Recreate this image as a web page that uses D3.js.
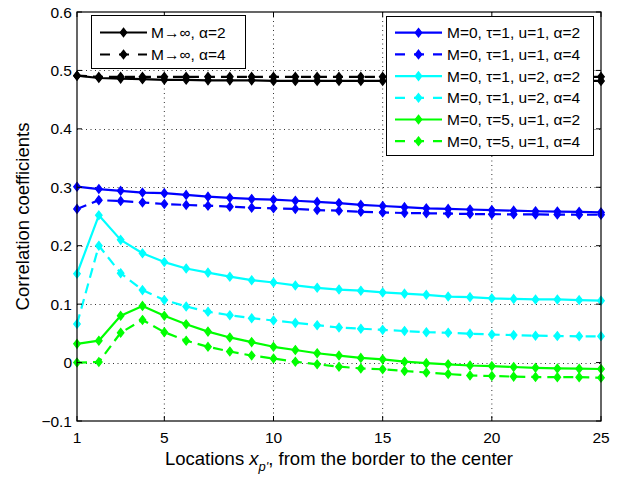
<!DOCTYPE html>
<html>
<head>
<meta charset="utf-8">
<script src="https://cdn.jsdelivr.net/npm/d3@7/dist/d3.min.js"></script>
<style>
  html, body { margin: 0; padding: 0; background: #fff; }
  svg { display: block; }
  text { font-family: "Liberation Sans", Arial, Helvetica, sans-serif; fill: #000; }
</style>
</head>
<body>
<svg id="chart" width="632" height="478"></svg>
<script>
// ---- data ----
const locations = d3.range(1, 26);
const xTicks = [1, 5, 10, 15, 20, 25];
const yTicks = [-0.1, 0, 0.1, 0.2, 0.3, 0.4, 0.5, 0.6];

const blackA2 = [0.491,0.487,0.486,0.485,0.484,0.484,0.483,0.483,0.483,0.482,0.482,0.482,0.482,0.482,0.482,0.482,0.482,0.482,0.482,0.482,0.482,0.482,0.482,0.482,0.482];
const blackA4 = [0.491,0.489,0.489,0.489,0.489,0.489,0.489,0.489,0.489,0.489,0.489,0.489,0.489,0.489,0.489,0.489,0.489,0.489,0.489,0.489,0.489,0.489,0.489,0.489,0.489];
const blueA2  = [0.301,0.297,0.294,0.291,0.290,0.287,0.284,0.282,0.280,0.279,0.277,0.275,0.273,0.270,0.268,0.266,0.264,0.263,0.262,0.261,0.260,0.259,0.2585,0.258,0.257];
const blueA4  = [0.263,0.278,0.2765,0.274,0.2714,0.2697,0.2685,0.2668,0.265,0.264,0.2628,0.261,0.260,0.258,0.257,0.256,0.2555,0.255,0.2543,0.254,0.2537,0.2535,0.2533,0.253,0.253];
const cyanA2  = [0.152,0.252,0.210,0.187,0.172,0.161,0.154,0.147,0.141,0.137,0.132,0.128,0.125,0.123,0.120,0.118,0.116,0.113,0.112,0.110,0.109,0.108,0.108,0.107,0.106];
const cyanA4  = [0.066,0.200,0.153,0.124,0.107,0.096,0.087,0.081,0.076,0.072,0.068,0.064,0.060,0.058,0.056,0.054,0.052,0.051,0.0495,0.048,0.047,0.046,0.0455,0.045,0.045];
const greenA2 = [0.032,0.0375,0.080,0.097,0.080,0.0655,0.053,0.043,0.035,0.027,0.0215,0.016,0.012,0.008,0.0056,0.0015,-0.001,-0.003,-0.005,-0.006,-0.0076,-0.009,-0.010,-0.0105,-0.011];
const greenA4 = [0.000,0.001,0.051,0.073,0.052,0.0375,0.027,0.019,0.012,0.007,0.0015,-0.003,-0.007,-0.010,-0.0115,-0.0144,-0.017,-0.0196,-0.022,-0.023,-0.024,-0.0247,-0.025,-0.025,-0.026];

const seriesNames = ["M\u2192\u221e, \u03b1=2", "M\u2192\u221e, \u03b1=4",
  "M=0, \u03c4=1, u=1, \u03b1=2", "M=0, \u03c4=1, u=1, \u03b1=4",
  "M=0, \u03c4=1, u=2, \u03b1=2", "M=0, \u03c4=1, u=2, \u03b1=4",
  "M=0, \u03c4=5, u=1, \u03b1=2", "M=0, \u03c4=5, u=1, \u03b1=4"];
const seriesColors = ["#000000","#000000","#0000ff","#0000ff","#00ffff","#00ffff","#00ff00","#00ff00"];
const seriesDashed = [false,true,false,true,false,true,false,true];
const seriesValues = [blackA2, blackA4, blueA2, blueA4, cyanA2, cyanA4, greenA2, greenA4];

// ---- layout ----
const svg = d3.select("#chart");
const L = 77, R = 601, T = 12, B = 421;
const x = d3.scaleLinear().domain([1, 25]).range([L, R]);
const y = d3.scaleLinear().domain([-0.1, 0.6]).range([B, T]);
const DASH = "10,6";

// grid
const grid = svg.append("g");
xTicks.filter(t => t !== 1 && t !== 25).forEach(t => {
  grid.append("line").attr("x1", x(t)).attr("x2", x(t)).attr("y1", T).attr("y2", B)
    .attr("stroke", "#333").attr("stroke-width", 1).attr("stroke-dasharray", "1,3.5");
});
yTicks.filter(t => t !== -0.1 && t !== 0.6).forEach(t => {
  grid.append("line").attr("x1", L).attr("x2", R).attr("y1", Math.round(y(t)) + 0.5).attr("y2", Math.round(y(t)) + 0.5)
    .attr("stroke", "#333").attr("stroke-width", 1).attr("stroke-dasharray", "1,3.5");
});

function diamond(cx, cy, w, h) {
  return `M${cx},${cy - h}L${cx + w},${cy}L${cx},${cy + h}L${cx - w},${cy}Z`;
}

// series
const line = d3.line().x((d, i) => x(locations[i])).y(d => y(d));
const plot = svg.append("g");
seriesValues.forEach((vals, s) => {
  const g = plot.append("g");
  g.append("path").datum(vals).attr("d", line)
    .attr("fill", "none").attr("stroke", seriesColors[s]).attr("stroke-width", 2.2)
    .attr("stroke-linejoin", "round")
    .attr("stroke-dasharray", seriesDashed[s] ? DASH : null);
  g.selectAll("path.m").data(vals).join("path").attr("class", "m")
    .attr("d", (d, i) => diamond(x(locations[i]), y(d), 3.3, 4.3))
    .attr("fill", seriesColors[s]).attr("stroke", seriesColors[s]).attr("stroke-width", 1.2);
});

// axes box
const ax = svg.append("g");
ax.append("rect").attr("x", L).attr("y", T).attr("width", R - L).attr("height", B - T)
  .attr("fill", "none").attr("stroke", "#000").attr("stroke-width", 1.2);
const TL = 5;
xTicks.forEach(t => {
  ax.append("line").attr("x1", x(t)).attr("x2", x(t)).attr("y1", B).attr("y2", B - TL).attr("stroke", "#000");
  ax.append("line").attr("x1", x(t)).attr("x2", x(t)).attr("y1", T).attr("y2", T + TL).attr("stroke", "#000");
  ax.append("text").attr("x", x(t)).attr("y", B + 22).attr("text-anchor", "middle")
    .attr("font-size", 15.5).text(t);
});
yTicks.forEach(t => {
  ax.append("line").attr("x1", L).attr("x2", L + TL).attr("y1", y(t)).attr("y2", y(t)).attr("stroke", "#000");
  ax.append("line").attr("x1", R).attr("x2", R - TL).attr("y1", y(t)).attr("y2", y(t)).attr("stroke", "#000");
  ax.append("text").attr("x", L - 5).attr("y", y(t) + 5.5).attr("text-anchor", "end")
    .attr("font-size", 15.5).text(t < 0 ? "\u2212" + Math.abs(t).toFixed(1) : (t === 0 ? "0" : t.toFixed(1)));
});

// axis labels
const xl = svg.append("text").attr("x", (L + R) / 2).attr("y", 465).attr("text-anchor", "middle").attr("font-size", 18.5);
xl.append("tspan").text("Locations ");
xl.append("tspan").attr("font-style", "italic").text("x");
xl.append("tspan").attr("font-style", "italic").attr("font-size", 13).attr("dy", 6).text("p'");
xl.append("tspan").attr("dy", -6).text(", from the border to the center");

svg.append("text").attr("transform", `translate(29,${(T + B) / 2}) rotate(-90)`)
  .attr("text-anchor", "middle").attr("font-size", 18.5).text("Correlation coefficients");

// legends
function legend(items, bx, by, bw, bh, row0, rowH, lx0, lx1, tx) {
  const g = svg.append("g");
  g.append("rect").attr("x", bx + 0.5).attr("y", by + 0.5).attr("width", bw).attr("height", bh)
    .attr("fill", "#fff").attr("stroke", "#000").attr("stroke-width", 1);
  items.forEach((s, i) => {
    const cy = row0 + i * rowH;
    g.append("line").attr("x1", lx0).attr("x2", lx1).attr("y1", cy).attr("y2", cy)
      .attr("stroke", seriesColors[s]).attr("stroke-width", 2.2)
      .attr("stroke-dasharray", seriesDashed[s] ? "10,9" : null);
    g.append("path").attr("d", diamond((lx0 + lx1) / 2, cy, 3.3, 4.3))
      .attr("fill", seriesColors[s]).attr("stroke", seriesColors[s]).attr("stroke-width", 1.2);
    g.append("text").attr("x", tx).attr("y", cy + 5.5).attr("font-size", 15.5).text(seriesNames[s]);
  });
}
legend([0, 1], 91, 15, 154, 53, 32.5, 22, 100, 147, 151);
legend([2, 3, 4, 5, 6, 7], 386, 16, 207, 139, 32.7, 21.7, 395, 442, 447);
</script>
</body>
</html>
